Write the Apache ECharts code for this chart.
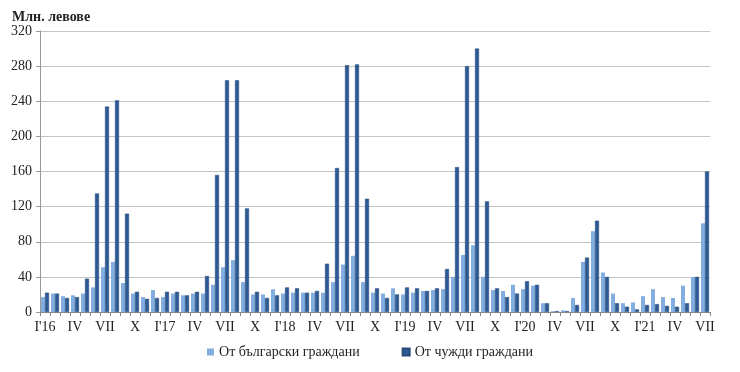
<!DOCTYPE html>
<html><head><meta charset="utf-8">
<script src="https://cdn.jsdelivr.net/npm/echarts@6/dist/echarts.min.js"></script>
<style>html,body{margin:0;padding:0;background:#fff}#c{width:740px;height:372px}</style>
</head><body><div id="c"></div>
<script>
const monthLabels = ["I","II","III","IV","V","VI","VII","VIII","IX","X","XI","XII"];
const years = ["16","17","18","19","20","21"];
const seriesNames = ["От български граждани","От чужди граждани"];
const bulgarian = [
  17,21,18,19,21,28,51,57,33,21,17,25,
  17,21,19,21,21,31,51,59,34,20,20,26,
  21,22,22,22,22,34,54,64,34,22,21,27,
  20,22,24,25,26,40,65,76,40,25,24,31,
  26,30,10,1,2,16,57,92,45,21,10,11,
  18,26,17,16,30,40,101
];
const foreign = [
  22,21,16,17,38,135,234,241,112,23,15,16,
  23,23,19,23,41,156,264,264,118,23,16,19,
  28,27,22,24,55,164,281,282,129,27,16,20,
  28,27,24,27,49,165,280,300,126,27,17,21,
  35,31,10,1,1,8,62,104,40,10,6,3,
  8,9,7,6,10,40,160
];
const yTicks = [0,40,80,120,160,200,240,280,320];
const categories = [];
for (let i = 0; i < bulgarian.length; i++) {
  const m = i % 12, y = Math.floor(i / 12);
  categories.push(m === 0 ? "I'" + years[y] : monthLabels[m]);
}
const serif = "'Liberation Serif','DejaVu Serif',serif";
const chart = echarts.init(document.getElementById('c'));
chart.setOption({
  animation: false,
  backgroundColor: '#fff',
  textStyle: {fontFamily: serif},
  grid: {left: 40, right: 30, top: 31, bottom: 60},
  legend: {
    bottom: 8, left: 'center', itemWidth: 7, itemHeight: 7, itemGap: 42,
    icon: 'rect',
    textStyle: {fontFamily: serif, fontSize: 14, color: '#222'},
    data: seriesNames
  },
  xAxis: {
    type: 'category', data: categories,
    axisLine: {lineStyle: {color: '#888'}},
    axisTick: {show: true, interval: 0, length: 4, lineStyle: {color: '#888'}},
    axisLabel: {interval: 2, fontFamily: serif, fontSize: 14, color: '#222', margin: 8}
  },
  yAxis: {
    type: 'value', min: yTicks[0], max: yTicks[yTicks.length-1], interval: 40,
    name: 'Млн. левове', nameLocation: 'end',
    nameTextStyle: {fontFamily: serif, fontSize: 14, fontWeight: 'bold', color: '#222', align: 'left', padding: [0,0,0,-28]},
    nameGap: 6,
    axisLine: {show: true, lineStyle: {color: '#999'}},
    axisTick: {show: true, length: 4, lineStyle: {color: '#999'}},
    splitLine: {lineStyle: {color: '#c4c4c4', width: 1}},
    axisLabel: {fontFamily: serif, fontSize: 14, color: '#222', margin: 8}
  },
  series: [
    {name: seriesNames[0], type: 'bar', data: bulgarian, barGap: '0%', barCategoryGap: '20%',
     itemStyle: {color: '#84aee0'}},
    {name: seriesNames[1], type: 'bar', data: foreign,
     itemStyle: {color: '#2e5a93', borderColor: '#244a7c', borderWidth: 0.5}}
  ]
});
</script></body></html>
